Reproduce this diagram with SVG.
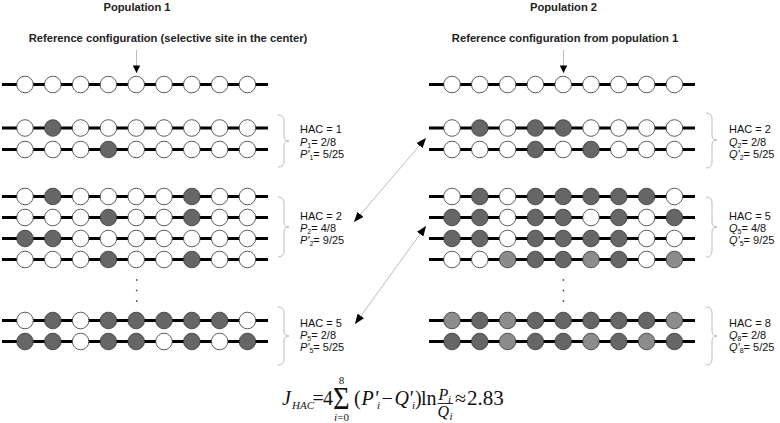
<svg xmlns="http://www.w3.org/2000/svg" width="780" height="423" viewBox="0 0 780 423">
<defs>
<style>
.bg{fill:#fff}
.t{font-family:"Liberation Sans",Arial,sans-serif;font-size:11px;fill:#111}
.tb{font-family:"Liberation Sans",Arial,sans-serif;font-size:11.2px;font-weight:bold;fill:#222}
.i{font-style:italic}
.sub{font-size:7px}
.ch{stroke:#000;stroke-width:3}
.w{fill:#fff;stroke:#333;stroke-width:0.8}
.d{fill:#666;stroke:#333;stroke-width:0.8}
.l{fill:#8c8c8c;stroke:#333;stroke-width:0.8}
.br{fill:none;stroke:#bbb;stroke-width:1}
.cn{stroke:#aaa;stroke-width:0.8;fill:none}
.dot{fill:#555}
.f{font-family:"Liberation Serif","Times New Roman",serif;font-size:20px;fill:#111}
.fn{font-family:"Liberation Serif","Times New Roman",serif;font-size:16px;fill:#111}
.fs{font-family:"Liberation Serif","Times New Roman",serif;font-size:11px;fill:#111}
</style>
<marker id="ah" viewBox="0 0 10 8" refX="10" refY="4" markerWidth="10" markerHeight="8" markerUnits="userSpaceOnUse" orient="auto-start-reverse">
<path d="M0,0 L10,4 L0,8 Z" fill="#000"/>
</marker>
<marker id="ah2" viewBox="0 0 8 8" refX="8" refY="4" markerWidth="8" markerHeight="7.5" markerUnits="userSpaceOnUse" orient="auto">
<path d="M0,0 L8,4 L0,8 Z" fill="#000"/>
</marker>
</defs>
<rect class="bg" width="780" height="423"/>

<g id="titles">
<text class="tb" x="137" y="10.5" text-anchor="middle">Population 1</text>
<text class="tb" x="168" y="41.5" text-anchor="middle">Reference configuration (selective site in the center)</text>
<text class="tb" x="563.5" y="10.5" text-anchor="middle">Population 2</text>
<text class="tb" x="565" y="41.5" text-anchor="middle">Reference configuration from population 1</text>
</g>

<g id="connectors">
<line class="cn" x1="136.5" y1="50" x2="136.5" y2="73" marker-end="url(#ah2)"/>
<line class="cn" x1="563.5" y1="50" x2="563.5" y2="73" marker-end="url(#ah2)"/>
<line class="cn" x1="354" y1="222" x2="426" y2="138" marker-start="url(#ah)" marker-end="url(#ah)"/>
<line class="cn" x1="355" y1="324" x2="426" y2="226" marker-start="url(#ah)" marker-end="url(#ah)"/>
</g>

<!-- Population 1 -->
<g id="p1-ref" transform="translate(25,84.5)">
<line class="ch" x1="-23" y1="0" x2="243" y2="0"/>
<circle class="w" cx="0" r="8.3"/><circle class="w" cx="27.8" r="8.3"/><circle class="w" cx="55.6" r="8.3"/><circle class="w" cx="83.4" r="8.3"/><circle class="w" cx="111.2" r="8.3"/><circle class="w" cx="139" r="8.3"/><circle class="w" cx="166.8" r="8.3"/><circle class="w" cx="194.6" r="8.3"/><circle class="w" cx="222.4" r="8.3"/>
</g>
<g id="p1-g1-r1" transform="translate(25,128)">
<line class="ch" x1="-23" y1="0" x2="243" y2="0"/>
<circle class="w" cx="0" r="8.3"/><circle class="d" cx="27.8" r="8.3"/><circle class="w" cx="55.6" r="8.3"/><circle class="w" cx="83.4" r="8.3"/><circle class="w" cx="111.2" r="8.3"/><circle class="w" cx="139" r="8.3"/><circle class="w" cx="166.8" r="8.3"/><circle class="w" cx="194.6" r="8.3"/><circle class="w" cx="222.4" r="8.3"/>
</g>
<g id="p1-g1-r2" transform="translate(25,149.5)">
<line class="ch" x1="-23" y1="0" x2="243" y2="0"/>
<circle class="w" cx="0" r="8.3"/><circle class="w" cx="27.8" r="8.3"/><circle class="w" cx="55.6" r="8.3"/><circle class="d" cx="83.4" r="8.3"/><circle class="w" cx="111.2" r="8.3"/><circle class="w" cx="139" r="8.3"/><circle class="w" cx="166.8" r="8.3"/><circle class="w" cx="194.6" r="8.3"/><circle class="w" cx="222.4" r="8.3"/>
</g>
<g id="p1-g2-r1" transform="translate(25,196.5)">
<line class="ch" x1="-23" y1="0" x2="243" y2="0"/>
<circle class="w" cx="0" r="8.3"/><circle class="d" cx="27.8" r="8.3"/><circle class="w" cx="55.6" r="8.3"/><circle class="w" cx="83.4" r="8.3"/><circle class="w" cx="111.2" r="8.3"/><circle class="w" cx="139" r="8.3"/><circle class="d" cx="166.8" r="8.3"/><circle class="w" cx="194.6" r="8.3"/><circle class="w" cx="222.4" r="8.3"/>
</g>
<g id="p1-g2-r2" transform="translate(25,217.5)">
<line class="ch" x1="-23" y1="0" x2="243" y2="0"/>
<circle class="w" cx="0" r="8.3"/><circle class="w" cx="27.8" r="8.3"/><circle class="w" cx="55.6" r="8.3"/><circle class="d" cx="83.4" r="8.3"/><circle class="w" cx="111.2" r="8.3"/><circle class="w" cx="139" r="8.3"/><circle class="d" cx="166.8" r="8.3"/><circle class="w" cx="194.6" r="8.3"/><circle class="w" cx="222.4" r="8.3"/>
</g>
<g id="p1-g2-r3" transform="translate(25,238.5)">
<line class="ch" x1="-23" y1="0" x2="243" y2="0"/>
<circle class="d" cx="0" r="8.3"/><circle class="d" cx="27.8" r="8.3"/><circle class="w" cx="55.6" r="8.3"/><circle class="w" cx="83.4" r="8.3"/><circle class="w" cx="111.2" r="8.3"/><circle class="w" cx="139" r="8.3"/><circle class="w" cx="166.8" r="8.3"/><circle class="w" cx="194.6" r="8.3"/><circle class="w" cx="222.4" r="8.3"/>
</g>
<g id="p1-g2-r4" transform="translate(25,259.5)">
<line class="ch" x1="-23" y1="0" x2="243" y2="0"/>
<circle class="w" cx="0" r="8.3"/><circle class="w" cx="27.8" r="8.3"/><circle class="w" cx="55.6" r="8.3"/><circle class="d" cx="83.4" r="8.3"/><circle class="w" cx="111.2" r="8.3"/><circle class="w" cx="139" r="8.3"/><circle class="d" cx="166.8" r="8.3"/><circle class="w" cx="194.6" r="8.3"/><circle class="w" cx="222.4" r="8.3"/>
</g>
<g id="p1-dots">
<circle class="dot" cx="136.7" cy="280" r="0.9"/><circle class="dot" cx="136.7" cy="290.5" r="0.9"/><circle class="dot" cx="136.7" cy="301" r="0.9"/>
</g>
<g id="p1-g5-r1" transform="translate(25,320.5)">
<line class="ch" x1="-23" y1="0" x2="243" y2="0"/>
<circle class="w" cx="0" r="8.3"/><circle class="d" cx="27.8" r="8.3"/><circle class="w" cx="55.6" r="8.3"/><circle class="d" cx="83.4" r="8.3"/><circle class="d" cx="111.2" r="8.3"/><circle class="d" cx="139" r="8.3"/><circle class="d" cx="166.8" r="8.3"/><circle class="d" cx="194.6" r="8.3"/><circle class="w" cx="222.4" r="8.3"/>
</g>
<g id="p1-g5-r2" transform="translate(25,341.5)">
<line class="ch" x1="-23" y1="0" x2="243" y2="0"/>
<circle class="d" cx="0" r="8.3"/><circle class="d" cx="27.8" r="8.3"/><circle class="w" cx="55.6" r="8.3"/><circle class="d" cx="83.4" r="8.3"/><circle class="d" cx="111.2" r="8.3"/><circle class="w" cx="139" r="8.3"/><circle class="d" cx="166.8" r="8.3"/><circle class="w" cx="194.6" r="8.3"/><circle class="d" cx="222.4" r="8.3"/>
</g>

<!-- Population 2 -->
<g id="p2-ref" transform="translate(452,84.5)">
<line class="ch" x1="-23" y1="0" x2="243" y2="0"/>
<circle class="w" cx="0" r="8.3"/><circle class="w" cx="27.8" r="8.3"/><circle class="w" cx="55.6" r="8.3"/><circle class="w" cx="83.4" r="8.3"/><circle class="w" cx="111.2" r="8.3"/><circle class="w" cx="139" r="8.3"/><circle class="w" cx="166.8" r="8.3"/><circle class="w" cx="194.6" r="8.3"/><circle class="w" cx="222.4" r="8.3"/>
</g>
<g id="p2-g1-r1" transform="translate(452,128)">
<line class="ch" x1="-23" y1="0" x2="243" y2="0"/>
<circle class="w" cx="0" r="8.3"/><circle class="d" cx="27.8" r="8.3"/><circle class="w" cx="55.6" r="8.3"/><circle class="d" cx="83.4" r="8.3"/><circle class="d" cx="111.2" r="8.3"/><circle class="w" cx="139" r="8.3"/><circle class="w" cx="166.8" r="8.3"/><circle class="w" cx="194.6" r="8.3"/><circle class="w" cx="222.4" r="8.3"/>
</g>
<g id="p2-g1-r2" transform="translate(452,149.5)">
<line class="ch" x1="-23" y1="0" x2="243" y2="0"/>
<circle class="w" cx="0" r="8.3"/><circle class="w" cx="27.8" r="8.3"/><circle class="w" cx="55.6" r="8.3"/><circle class="d" cx="83.4" r="8.3"/><circle class="w" cx="111.2" r="8.3"/><circle class="d" cx="139" r="8.3"/><circle class="w" cx="166.8" r="8.3"/><circle class="w" cx="194.6" r="8.3"/><circle class="w" cx="222.4" r="8.3"/>
</g>
<g id="p2-g2-r1" transform="translate(452,196.5)">
<line class="ch" x1="-23" y1="0" x2="243" y2="0"/>
<circle class="w" cx="0" r="8.3"/><circle class="d" cx="27.8" r="8.3"/><circle class="w" cx="55.6" r="8.3"/><circle class="d" cx="83.4" r="8.3"/><circle class="d" cx="111.2" r="8.3"/><circle class="d" cx="139" r="8.3"/><circle class="d" cx="166.8" r="8.3"/><circle class="d" cx="194.6" r="8.3"/><circle class="w" cx="222.4" r="8.3"/>
</g>
<g id="p2-g2-r2" transform="translate(452,217.5)">
<line class="ch" x1="-23" y1="0" x2="243" y2="0"/>
<circle class="d" cx="0" r="8.3"/><circle class="d" cx="27.8" r="8.3"/><circle class="w" cx="55.6" r="8.3"/><circle class="d" cx="83.4" r="8.3"/><circle class="d" cx="111.2" r="8.3"/><circle class="w" cx="139" r="8.3"/><circle class="d" cx="166.8" r="8.3"/><circle class="w" cx="194.6" r="8.3"/><circle class="d" cx="222.4" r="8.3"/>
</g>
<g id="p2-g2-r3" transform="translate(452,238.5)">
<line class="ch" x1="-23" y1="0" x2="243" y2="0"/>
<circle class="d" cx="0" r="8.3"/><circle class="d" cx="27.8" r="8.3"/><circle class="w" cx="55.6" r="8.3"/><circle class="d" cx="83.4" r="8.3"/><circle class="d" cx="111.2" r="8.3"/><circle class="d" cx="139" r="8.3"/><circle class="d" cx="166.8" r="8.3"/><circle class="w" cx="194.6" r="8.3"/><circle class="w" cx="222.4" r="8.3"/>
</g>
<g id="p2-g2-r4" transform="translate(452,259.5)">
<line class="ch" x1="-23" y1="0" x2="243" y2="0"/>
<circle class="w" cx="0" r="8.3"/><circle class="w" cx="27.8" r="8.3"/><circle class="l" cx="55.6" r="8.3"/><circle class="d" cx="83.4" r="8.3"/><circle class="d" cx="111.2" r="8.3"/><circle class="l" cx="139" r="8.3"/><circle class="d" cx="166.8" r="8.3"/><circle class="w" cx="194.6" r="8.3"/><circle class="l" cx="222.4" r="8.3"/>
</g>
<g id="p2-dots">
<circle class="dot" cx="563.5" cy="280" r="0.9"/><circle class="dot" cx="563.5" cy="290.5" r="0.9"/><circle class="dot" cx="563.5" cy="301" r="0.9"/>
</g>
<g id="p2-g8-r1" transform="translate(452,320.5)">
<line class="ch" x1="-23" y1="0" x2="243" y2="0"/>
<circle class="l" cx="0" r="8.3"/><circle class="d" cx="27.8" r="8.3"/><circle class="l" cx="55.6" r="8.3"/><circle class="d" cx="83.4" r="8.3"/><circle class="d" cx="111.2" r="8.3"/><circle class="d" cx="139" r="8.3"/><circle class="d" cx="166.8" r="8.3"/><circle class="d" cx="194.6" r="8.3"/><circle class="l" cx="222.4" r="8.3"/>
</g>
<g id="p2-g8-r2" transform="translate(452,341.5)">
<line class="ch" x1="-23" y1="0" x2="243" y2="0"/>
<circle class="d" cx="0" r="8.3"/><circle class="d" cx="27.8" r="8.3"/><circle class="l" cx="55.6" r="8.3"/><circle class="d" cx="83.4" r="8.3"/><circle class="d" cx="111.2" r="8.3"/><circle class="l" cx="139" r="8.3"/><circle class="d" cx="166.8" r="8.3"/><circle class="l" cx="194.6" r="8.3"/><circle class="d" cx="222.4" r="8.3"/>
</g>

<!-- Braces and labels, population 1 -->
<g id="p1-hac1">
<path class="br" d="M278,115 Q284,115 284,121 L284,136 Q284,141 289,141 Q284,141 284,146 L284,161 Q284,167 278,167"/>
<text class="t" x="300" y="133">HAC = 1</text>
<text class="t" x="300" y="145.5"><tspan class="i">P</tspan><tspan class="sub" dy="2">1</tspan><tspan dy="-2">= 2/8</tspan></text>
<text class="t" x="300" y="158"><tspan class="i">P'</tspan><tspan class="sub" dy="2">1</tspan><tspan dy="-2">= 5/25</tspan></text>
</g>
<g id="p1-hac2">
<path class="br" d="M278,197 Q284,197 284,203 L284,222 Q284,227 289,227 Q284,227 284,232 L284,251 Q284,257 278,257"/>
<text class="t" x="300" y="220">HAC = 2</text>
<text class="t" x="300" y="232"><tspan class="i">P</tspan><tspan class="sub" dy="2">2</tspan><tspan dy="-2">= 4/8</tspan></text>
<text class="t" x="300" y="244"><tspan class="i">P'</tspan><tspan class="sub" dy="2">2</tspan><tspan dy="-2">= 9/25</tspan></text>
</g>
<g id="p1-hac5">
<path class="br" d="M278,307 Q284,307 284,313 L284,331 Q284,336 289,336 Q284,336 284,341 L284,359 Q284,365 278,365"/>
<text class="t" x="300" y="327">HAC = 5</text>
<text class="t" x="300" y="339"><tspan class="i">P</tspan><tspan class="sub" dy="2">5</tspan><tspan dy="-2">= 2/8</tspan></text>
<text class="t" x="300" y="351"><tspan class="i">P'</tspan><tspan class="sub" dy="2">5</tspan><tspan dy="-2">= 5/25</tspan></text>
</g>

<!-- Braces and labels, population 2 -->
<g id="p2-hac2">
<path class="br" d="M706,113 Q712,113 712,119 L712,135 Q712,140 717,140 Q712,140 712,145 L712,162 Q712,168 706,168"/>
<text class="t" x="729" y="133">HAC = 2</text>
<text class="t" x="729" y="145.5"><tspan class="i">Q</tspan><tspan class="sub" dy="2">2</tspan><tspan dy="-2">= 2/8</tspan></text>
<text class="t" x="729" y="158"><tspan class="i">Q'</tspan><tspan class="sub" dy="2">2</tspan><tspan dy="-2">= 5/25</tspan></text>
</g>
<g id="p2-hac5">
<path class="br" d="M706,197 Q712,197 712,203 L712,222 Q712,227 717,227 Q712,227 712,232 L712,251 Q712,257 706,257"/>
<text class="t" x="729" y="220">HAC = 5</text>
<text class="t" x="729" y="232"><tspan class="i">Q</tspan><tspan class="sub" dy="2">5</tspan><tspan dy="-2">= 4/8</tspan></text>
<text class="t" x="729" y="244"><tspan class="i">Q'</tspan><tspan class="sub" dy="2">5</tspan><tspan dy="-2">= 9/25</tspan></text>
</g>
<g id="p2-hac8">
<path class="br" d="M706,307 Q712,307 712,313 L712,331 Q712,336 717,336 Q712,336 712,341 L712,359 Q712,365 706,365"/>
<text class="t" x="729" y="327">HAC = 8</text>
<text class="t" x="729" y="339"><tspan class="i">Q</tspan><tspan class="sub" dy="2">8</tspan><tspan dy="-2">= 2/8</tspan></text>
<text class="t" x="729" y="351"><tspan class="i">Q'</tspan><tspan class="sub" dy="2">8</tspan><tspan dy="-2">= 5/25</tspan></text>
</g>

<!-- Formula -->
<g id="formula">
<text class="f i" x="282" y="405">J</text>
<text class="fs i" x="292" y="408.5">HAC</text>
<text class="f" x="312.5" y="405">=</text>
<text class="f" x="323" y="405">4</text>
<text class="f" transform="translate(333,408.5) scale(1.1,1.25)" style="font-size:26px" x="0" y="0">Σ</text>
<text class="fs" x="341.5" y="383.5" text-anchor="middle">8</text>
<text class="fs" x="341.5" y="421" text-anchor="middle"><tspan class="i">i</tspan>=0</text>
<text class="f" x="354" y="405">(</text>
<text class="f i" x="361.5" y="405">P</text>
<text class="f i" x="374" y="405">'</text>
<text class="fs i" x="377" y="409">i</text>
<text class="f" x="381.5" y="405">−</text>
<text class="f i" x="394.5" y="405">Q</text>
<text class="f i" x="408.5" y="405">'</text>
<text class="fs i" x="412" y="409">i</text>
<text class="f" x="415" y="405">)</text>
<text class="f" x="421" y="405">ln</text>
<text class="fn i" x="438.5" y="400">P</text>
<text class="fs i" x="448" y="403">i</text>
<line x1="437.5" y1="403.5" x2="453" y2="403.5" stroke="#111" stroke-width="0.9"/>
<text class="fn i" x="437.5" y="417">Q</text>
<text class="fs i" x="449.5" y="420">i</text>
<text class="f" x="455" y="405">≈</text>
<text class="f" x="467" y="405" style="font-size:21px">2.83</text>
</g>
</svg>
